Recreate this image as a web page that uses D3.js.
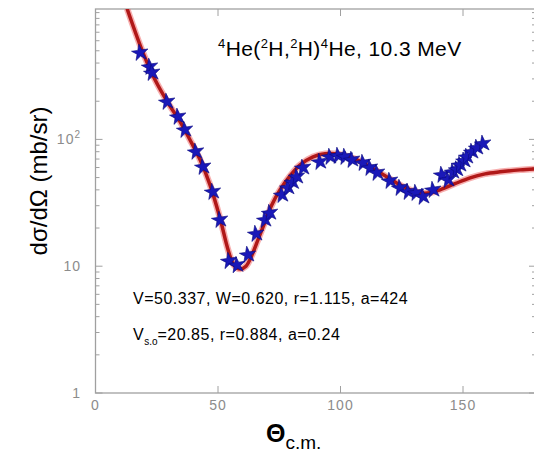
<!DOCTYPE html>
<html>
<head>
<meta charset="utf-8">
<script src="https://cdn.jsdelivr.net/npm/d3@7"></script>
<style>
  body { margin: 0; background: #fff; }
  text { font-family: "Liberation Sans", Arial, Helvetica, sans-serif; }
</style>
</head>
<body>
<svg id="chart" width="534" height="454"></svg>
<script>
// measured cross section (stars)
const starAngle = [18.2, 22.2, 23.1, 29.2, 33.7, 36.5, 41.0, 43.9, 47.9, 50.8, 54.5, 57.8, 62.2, 65.5,
  69.2, 71.2, 76.1, 78.6, 80.5, 82.2, 84.7, 91.6, 95.7, 99.0, 101.8, 104.7, 109.2, 112.0, 114.9, 120.2,
  124.3, 127.6, 130.8, 133.7, 137.8, 141.4, 143.9, 145.9, 147.5, 148.8, 150.5, 151.6, 153.7, 155.7, 158.2];
const starValue = [482, 374, 335, 198, 151, 119, 80, 60.8, 38.6, 23.2, 11.0, 10.2, 12.3, 18.0,
  23.2, 26.3, 36.5, 41.7, 46, 50.7, 59.7, 66.5, 72.9, 74.3, 72.9, 69, 65.3, 59.7, 54.5, 47.1,
  41.5, 38.6, 37.9, 35.3, 40, 52.6, 48, 55.5, 58, 63, 68, 72.9, 79.8, 85.9, 92.5];

// optical model fit (red line)
const fitAngle = [12.9, 19.4, 24.3, 29.6, 34.5, 38.6, 42.7, 46.7, 50.8, 54.1, 56.5, 59, 61.4, 63.9,
  66.3, 69.2, 72, 75.3, 79.4, 83.5, 88.8, 93.7, 99.8, 105.9, 112, 118.2, 124.3, 128.4, 132.4,
  136.5, 140.6, 146.7, 152.9, 159, 165.1, 173.3, 180];
const fitValue = [1073, 482, 295, 194, 138, 99, 69, 44, 24, 13.5, 10.2, 9.5, 10, 12.3,
  16.1, 22.4, 30.5, 40, 51.6, 63, 72.9, 77, 76, 70.3, 60.8, 51.6, 43.8, 40, 37.9,
  37.9, 40, 44.7, 49.8, 53.5, 55.5, 57.5, 58.6];

const xTicks = [0, 50, 100, 150];
const yTicks = [1, 10, 100];

const svg = d3.select('#chart');
const frame = {l: 95.5, r: 537, t: 9, b: 393};

const x = d3.scaleLinear().domain([0, 180]).range([95.5, 536.5]);
const y = d3.scaleLog().domain([1, 1000]).range([393, 12.6]);

//--------FRAME AND TICKS--------
const axisColor = '#a0a0a0';
svg.append('rect')
  .attr('x', frame.l).attr('y', frame.t)
  .attr('width', frame.r - frame.l).attr('height', frame.b - frame.t)
  .attr('fill', 'none').attr('stroke', axisColor).attr('stroke-width', 1.3);

// log minor ticks on left and right
let minor = [];
[1, 10, 100].forEach(d => { for (let k = 2; k <= 9; k++) minor.push(d * k); });
minor.push(1000);

const ticksG = svg.append('g').attr('stroke', axisColor).attr('stroke-width', 1);
ticksG.selectAll('.ml').data(minor).join('line')
  .attr('x1', frame.l).attr('x2', frame.l + 4)
  .attr('y1', d => y(d)).attr('y2', d => y(d));
ticksG.selectAll('.mr').data(minor).join('line')
  .attr('x1', frame.r).attr('x2', frame.r - 5)
  .attr('y1', d => y(d)).attr('y2', d => y(d));
ticksG.selectAll('.Ml').data(yTicks).join('line')
  .attr('x1', frame.l).attr('x2', frame.l + 7)
  .attr('y1', d => y(d)).attr('y2', d => y(d));
ticksG.selectAll('.Mr').data(yTicks).join('line')
  .attr('x1', frame.r).attr('x2', frame.r - 8)
  .attr('y1', d => y(d)).attr('y2', d => y(d));
ticksG.selectAll('.xb').data(xTicks.slice(1)).join('line')
  .attr('x1', d => x(d)).attr('x2', d => x(d))
  .attr('y1', frame.b).attr('y2', frame.b - 7);
ticksG.selectAll('.xt').data(xTicks.slice(1)).join('line')
  .attr('x1', d => x(d)).attr('x2', d => x(d))
  .attr('y1', frame.t).attr('y2', frame.t + 7);

// tick labels
svg.selectAll('.xlab').data(xTicks).join('text')
  .attr('x', d => x(d)).attr('y', frame.b + 17)
  .attr('text-anchor', 'middle')
  .style('font-size', '14px').style('letter-spacing', '1px')
  .attr('fill', '#8c8c8c')
  .text(d => d);

const ylab = svg.selectAll('.ylab').data(yTicks).join('text')
  .attr('x', 81).attr('y', d => y(d) + 5)
  .attr('text-anchor', 'end')
  .style('font-size', '14px').style('letter-spacing', '1px')
  .attr('fill', '#8c8c8c');
ylab.each(function(d) {
  const t = d3.select(this);
  if (d >= 100) {
    t.append('tspan').text('10');
    t.append('tspan').attr('dy', -6).style('font-size', '10px').text(Math.log10(d));
  } else {
    t.text(d);
  }
});

//--------CURVE--------
svg.append('clipPath').attr('id', 'plotClip')
  .append('rect').attr('x', frame.l).attr('y', frame.t)
  .attr('width', frame.r - frame.l).attr('height', frame.b - frame.t);

const fitData = fitAngle.map((a, i) => ({a: a, v: fitValue[i]}));
const line = d3.line().x(d => x(d.a)).y(d => y(d.v)).curve(d3.curveCatmullRom.alpha(0.5));

const plot = svg.append('g').attr('clip-path', 'url(#plotClip)');
plot.append('path').datum(fitData)
  .attr('d', line).attr('fill', 'none')
  .attr('stroke', '#f06060').attr('stroke-opacity', 0.5).attr('stroke-width', 6.5);
plot.append('path').datum(fitData)
  .attr('d', line).attr('fill', 'none')
  .attr('stroke', '#b01818').attr('stroke-width', 3.5);

//--------STARS--------
const starData = starAngle.map((a, i) => ({a: a, v: starValue[i]}));
const star = d3.symbol().type(d3.symbolStar).size(85);
plot.selectAll('.star').data(starData).join('path')
  .attr('class', 'star')
  .attr('d', star)
  .attr('transform', d => `translate(${x(d.a)},${y(d.v)}) rotate(-8)`)
  .attr('fill', '#1a18b8').attr('stroke', '#0a0a80').attr('stroke-width', 0.6);

//--------TEXTS--------
const title = svg.append('text')
  .attr('x', 218).attr('y', 55.5)
  .style('font-size', '21px').style('letter-spacing', '0.4px');
title.append('tspan').attr('dy', -8).style('font-size', '13px').text('4');
title.append('tspan').attr('dy', 8).text('He(');
title.append('tspan').attr('dy', -8).style('font-size', '13px').text('2');
title.append('tspan').attr('dy', 8).text('H,');
title.append('tspan').attr('dy', -8).style('font-size', '13px').text('2');
title.append('tspan').attr('dy', 8).text('H)');
title.append('tspan').attr('dy', -8).style('font-size', '13px').text('4');
title.append('tspan').attr('dy', 8).text('He, 10.3 MeV');

svg.append('text')
  .attr('x', 133).attr('y', 303.5)
  .style('font-size', '16px').style('letter-spacing', '0.5px')
  .text('V=50.337, W=0.620, r=1.115, a=424');

const so = svg.append('text')
  .attr('x', 133).attr('y', 339.5)
  .style('font-size', '16px').style('letter-spacing', '0.5px');
so.append('tspan').text('V');
so.append('tspan').attr('dy', 5).style('font-size', '10px').style('letter-spacing', '0px').text('s.o');
so.append('tspan').attr('dy', -5).text('=20.85, r=0.884, a=0.24');

svg.append('text')
  .attr('transform', 'translate(47,181) rotate(-90)')
  .attr('text-anchor', 'middle')
  .style('font-size', '24px')
  .text('dσ/dΩ (mb/sr)');

const xl = svg.append('text')
  .attr('x', 266).attr('y', 442);
xl.append('tspan').style('font-size', '25px').style('font-weight', 'bold').text('Θ');
xl.append('tspan').attr('dy', 7).style('font-size', '19px').text('c.m.');
</script>
</body>
</html>
